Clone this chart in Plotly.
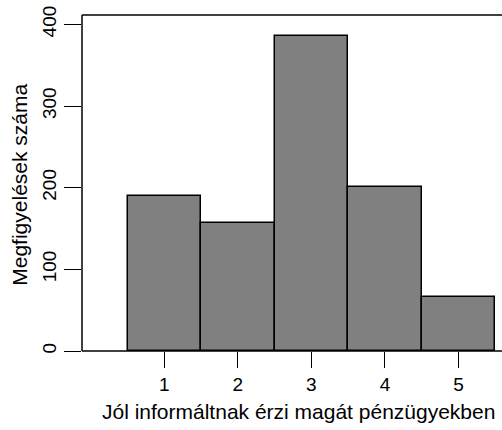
import plotly.graph_objects as go

# Válaszok megoszlása
categories = [1, 2, 3, 4, 5]
counts = [190, 157, 386, 201, 66]
y_ticks = [0, 100, 200, 300, 400]
x_title = "Jól informáltnak érzi magát pénzügyekben"
y_title = "Megfigyelések száma"

W, H = 502, 430
ml, mr, mt, mb = 82, 0, 15, 78.5
PW, PH = W - ml - mr, H - mt - mb
FAMILY = "Liberation Sans, Arial, sans-serif"
TICK_FONT = dict(family=FAMILY, size=19, color="black")
TITLE_FONT = dict(family=FAMILY, size=21, color="black")

fig = go.Figure(
    go.Bar(
        x=categories,
        y=counts,
        width=1,
        marker=dict(color="#808080", line=dict(color="black", width=1.5)),
        hoverinfo="x+y",
    )
)

fig.update_layout(
    width=W,
    height=H,
    margin=dict(l=ml, r=mr, t=mt, b=mb, pad=0),
    paper_bgcolor="white",
    plot_bgcolor="white",
    showlegend=False,
    bargap=0,
    font=TICK_FONT,
    xaxis=dict(
        range=[-0.121, 5.593],
        tickvals=categories,
        ticktext=[str(c) for c in categories],
        ticks="outside",
        ticklen=16,
        tickwidth=1,
        tickcolor="black",
        showgrid=False,
        zeroline=False,
        showline=False,
        tickfont=TICK_FONT,
    ),
    yaxis=dict(
        range=[0, 411.5],
        tickvals=y_ticks,
        ticks="outside",
        ticklen=17,
        tickwidth=1,
        tickcolor="black",
        tickangle=-90,
        showgrid=False,
        zeroline=False,
        showline=False,
        tickfont=TICK_FONT,
    ),
    shapes=[
        # keret: bal, felső és alsó vonal
        dict(type="line", xref="paper", yref="paper", x0=0, x1=0, y0=0, y1=1,
             line=dict(color="black", width=1.5)),
        dict(type="line", xref="paper", yref="paper", x0=0, x1=1, y0=1, y1=1,
             line=dict(color="black", width=1.5)),
        dict(type="line", xref="paper", yref="paper", x0=0, x1=1, y0=0, y1=0,
             line=dict(color="black", width=1.5)),
    ],
    annotations=[
        dict(text=x_title, xref="paper", yref="paper",
             x=(298.5 - ml) / PW, y=-(412.5 - (H - mb)) / PH,
             xanchor="center", yanchor="middle", showarrow=False, font=TITLE_FONT),
        dict(text=y_title, xref="paper", yref="paper", textangle=-90,
             x=-(ml - 20) / PW, y=1 - (185 - mt) / PH,
             xanchor="center", yanchor="middle", showarrow=False, font=TITLE_FONT),
    ],
)

fig.write_html("out.html")
